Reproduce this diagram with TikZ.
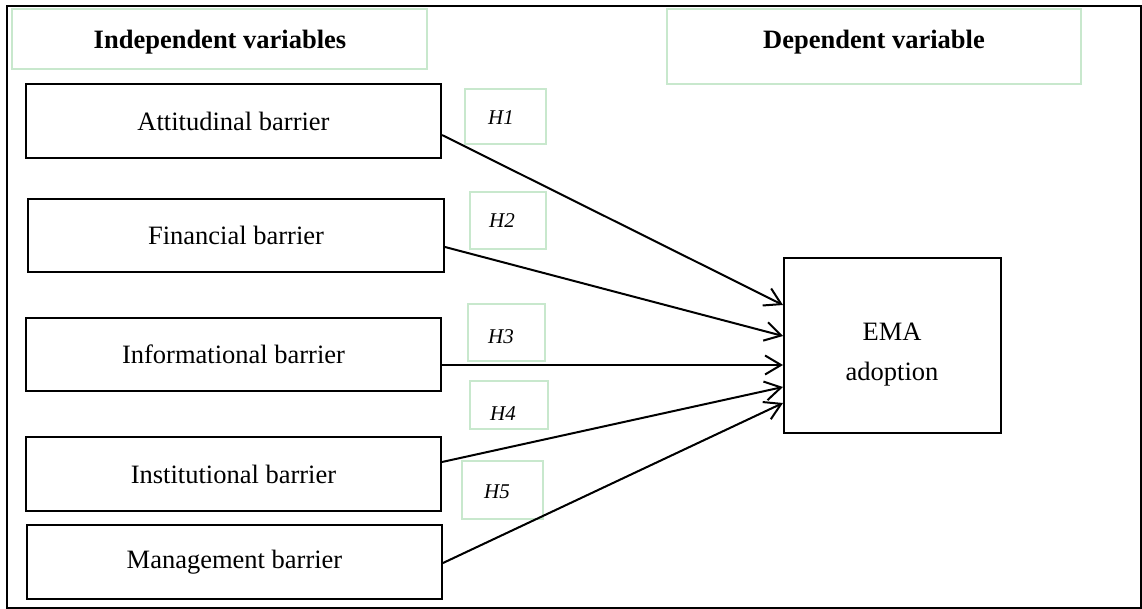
\documentclass[tikz,border=0pt]{standalone}
\usepackage{fontspec}
\setmainfont{Liberation Serif}
\usetikzlibrary{arrows.meta}
\definecolor{lightgreen}{RGB}{200,232,205}
\tikzset{
  mainfont/.style={font=\fontsize{13.25pt}{20pt}\selectfont},
  varbox/.style={draw=black, line width=1pt, inner sep=0pt, mainfont},
  greenbox/.style={draw=lightgreen, line width=0.6pt, inner sep=0pt},
  headtext/.style={font=\fontsize{13.25pt}{16pt}\selectfont\bfseries, inner sep=0pt},
  htext/.style={font=\fontsize{10.5pt}{12pt}\selectfont\itshape, inner sep=0pt},
  link/.style={line width=1pt, -{Straight Barb[length=8pt,width=9.5pt]}}
}
\begin{document}
\begin{tikzpicture}[x=0.5pt, y=-0.5pt]
\useasboundingbox (0,0) rectangle (1142,609);
% outer frame
\draw[line width=1pt] (7,6) rectangle (1140.5,607.5);

% header boxes
\node[greenbox, minimum width=207.5pt, minimum height=30pt] (indepbox) at (219.5,39) {};
\node[headtext] (indeptext) at (220,42) {Independent variables};
\node[greenbox, minimum width=207pt, minimum height=37.5pt] (depbox) at (874,46.5) {};
\node[headtext] (deptext) at (874,42) {Dependent variable};

% independent variable boxes
\node[varbox, minimum width=207.5pt, minimum height=37pt] (att) at (233.5,121) {Attitudinal barrier};
\node[varbox, minimum width=208pt, minimum height=36.5pt] (fin) at (236,235.5) {Financial barrier};
\node[varbox, minimum width=207.5pt, minimum height=36.5pt] (inf) at (233.5,354.5) {Informational barrier};
\node[varbox, minimum width=207.5pt, minimum height=37pt] (ins) at (233.5,474) {Institutional barrier};
\node[varbox, minimum width=207.5pt, minimum height=37pt] (man) at (234.5,562) {Management barrier};

% dependent variable box
\node[varbox, minimum width=108.5pt, minimum height=87.5pt] (ema) at (892.5,345.5) {};
\node[mainfont, align=center, inner sep=0pt] (ematext) at (892,355) {EMA\\adoption};

% hypothesis boxes
\node[greenbox, minimum width=40.5pt, minimum height=27.5pt] (h1) at (505.5,116.5) {};
\node[greenbox, minimum width=38pt, minimum height=28.5pt] (h2) at (508,220.5) {};
\node[greenbox, minimum width=38.5pt, minimum height=28.5pt] (h3) at (506.5,332.5) {};
\node[greenbox, minimum width=39pt, minimum height=24pt] (h4) at (509,405) {};
\node[greenbox, minimum width=40.5pt, minimum height=29pt] (h5) at (502.5,490) {};
\node[htext] (h1t) at (501,118) {H1};
\node[htext] (h2t) at (502,221) {H2};
\node[htext] (h3t) at (501,337) {H3};
\node[htext] (h4t) at (503,414) {H4};
\node[htext] (h5t) at (497,492) {H5};

% connectors
\draw[link] ([yshift=-7pt]att.east) -- ([yshift=20.25pt]ema.west);
\draw[link] ([yshift=-5.75pt]fin.east) -- ([yshift=4.75pt]ema.west);
\draw[link] ([yshift=-5.25pt]inf.east) -- ([yshift=-9.75pt]ema.west);
\draw[link] ([yshift=6pt]ins.east) -- ([yshift=-20.75pt]ema.west);
\draw[link] ([yshift=-0.5pt]man.east) -- ([yshift=-28.75pt]ema.west);
\end{tikzpicture}
\end{document}
